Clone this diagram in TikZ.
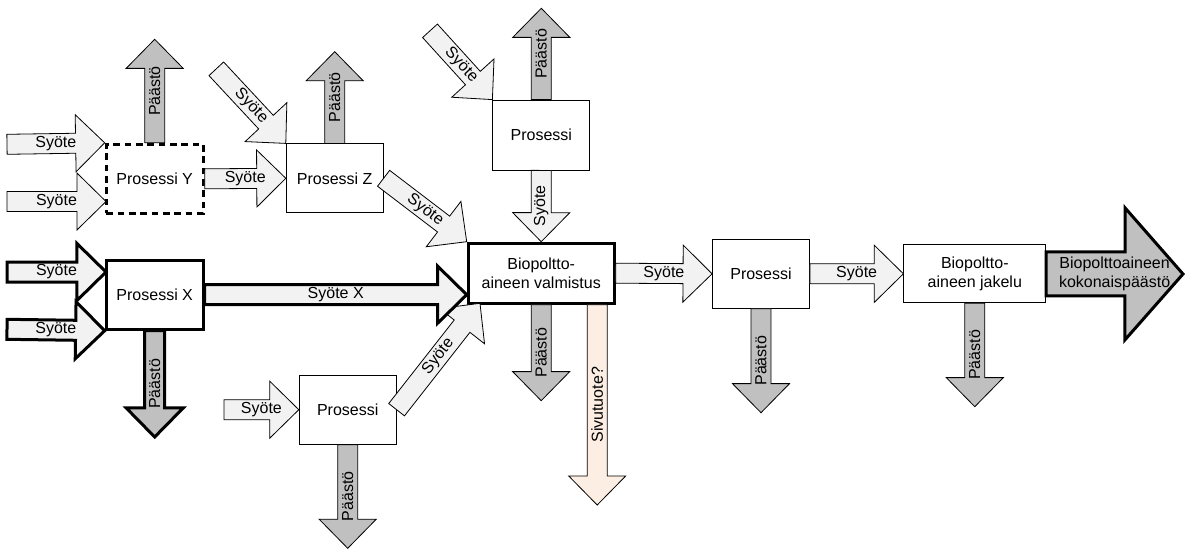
\documentclass[tikz,border=0pt]{standalone}
\usepackage{fontspec}
\setmainfont{Liberation Sans}
\usepackage{xcolor}
\usepackage{tikz}
\usetikzlibrary{calc}

\definecolor{syoteFill}{HTML}{F2F2F2}
\definecolor{paastoFill}{HTML}{C0C0C0}
\definecolor{sivuFill}{HTML}{FDEEE3}

\def\px{0.75pt}
\def\shw{7.5pt}
\def\hdw{21.4pt}
\def\hdl{21.8pt}

\newcommand{\barrow}[5][]{%
  \coordinate (bhead) at ($(#3)!\hdl!(#2)$);
  \filldraw[#1] ($(#2)!\shw!90:(#3)$) -- ($(bhead)!\shw!-90:(#2)$) -- ($(bhead)!\hdw!-90:(#2)$) -- (#3)
    -- ($(bhead)!\hdw!90:(#2)$) -- ($(bhead)!\shw!90:(#2)$) -- ($(#2)!\shw!-90:(#3)$) -- cycle;
  \path (#2) -- (#3) node[midway, rotate=#5, align=center, inner sep=0pt] {#4};
}

\tikzset{
  proc/.style={draw, fill=white, line width=0.6pt, minimum width=97*\px, minimum height=69*\px, inner sep=1pt, align=center},
  paksubox/.style={proc, line width=2.25pt},
  katkobox/.style={proc, line width=2.25pt, dash pattern=on 5pt off 3.5pt},
  syotearrow/.style={draw=black, line width=0.6pt, fill=syoteFill, line join=miter},
  paastoarrow/.style={draw=black, line width=0.6pt, fill=paastoFill, line join=miter},
  sivuarrow/.style={draw=black, line width=0.6pt, fill=sivuFill, line join=miter},
  paksusyote/.style={syotearrow, line width=2.25pt},
  paksupaasto/.style={paastoarrow, line width=2.25pt}
}

\begin{document}
\begin{tikzpicture}[x=0.75pt, y=-0.75pt, font=\fontsize{12}{14}\selectfont]
    \useasboundingbox (0,0) rectangle (1186,550);

    \node[katkobox] (procY) at (154.7,178.8) {Prosessi Y};
    \node[proc] (procZ) at (334.7,178.3) {Prosessi Z};
    \node[paksubox] (procX) at (154.7,294.7) {Prosessi X};
    \node[proc, minimum height=70*\px] (procTop) at (541.3,135) {Prosessi};
    \node[proc] (procLow) at (347.7,409.7) {Prosessi};
    \node[paksubox, minimum width=146*\px, minimum height=60*\px] (valm) at (541.2,273.2) {Biopoltto-\\aineen valmistus};
    \node[proc] (procMid) at (761,273.8) {Prosessi};
    \node[proc, minimum width=142*\px, minimum height=58*\px] (jakelu) at (974.8,273.8) {Biopoltto-\\aineen jakelu};

    \coordinate (sY1) at (7,144.3);
    \coordinate (sY2) at (7,201.5);
    \coordinate (tY2) at (106,201.5);
    \coordinate (pY) at (154.7,39.3);
    \coordinate (sZ) at (216.3,68.8);
    \coordinate (pZ) at (334.7,51.7);
    \coordinate (sTop) at (430,30.8);
    \coordinate (pTop) at (541.3,8.3);
    \coordinate (sLow) at (224,409.7);
    \coordinate (pLow) at (347.7,548.3);
    \coordinate (tLow) at (480,303.3);
    \coordinate (sX1) at (7,272);
    \coordinate (tX1) at (106,272);
    \coordinate (sX2) at (7,329.3);
    \coordinate (xEnd) at (valm.west |- procX.east);
    \coordinate (pX) at (154.7,437);
    \coordinate (pValm) at (541.2,400.7);
    \coordinate (sivu) at (597.2,505);
    \coordinate (sivuS) at (sivu |- valm.south);
    \coordinate (pMid) at (761,412.7);
    \coordinate (pJak) at (974.8,406.7);
    \coordinate (total) at (1183,274);

    \barrow[syotearrow]{sY1}{procY.north west}{Syöte}{0}
    \barrow[syotearrow]{sY2}{tY2}{Syöte}{0}
    \barrow[paastoarrow]{procY.north}{pY}{Päästö}{90}
    \barrow[syotearrow]{sZ}{procZ.north west}{Syöte}{-47}
    \barrow[syotearrow]{procY.east}{procZ.west}{Syöte}{0}
    \barrow[paastoarrow]{procZ.north}{pZ}{Päästö}{90}
    \barrow[syotearrow]{sTop}{procTop.north west}{Syöte}{-47}
    \barrow[paastoarrow]{procTop.north}{pTop}{Päästö}{90}
    \barrow[syotearrow]{procTop.south}{valm.north}{Syöte}{90}
    \barrow[syotearrow]{procZ.east}{valm.north west}{Syöte}{-37}
    \barrow[syotearrow]{sLow}{procLow.west}{Syöte}{0}
    \barrow[paastoarrow]{procLow.south}{pLow}{Päästö}{90}
    \barrow[syotearrow]{procLow.east}{tLow}{Syöte}{52}
    \barrow[paksusyote]{sX1}{tX1}{Syöte}{0}
    \barrow[paksusyote]{sX2}{procX.south west}{Syöte}{0}
    \barrow[paksusyote]{procX.east}{xEnd}{Syöte X}{0}
    \barrow[paksupaasto]{procX.south}{pX}{Päästö}{90}
    \barrow[paastoarrow]{valm.south}{pValm}{Päästö}{90}
    \barrow[sivuarrow]{sivuS}{sivu}{Sivutuote?}{90}
    \barrow[syotearrow]{valm.east}{procMid.west}{Syöte}{0}
    \barrow[paastoarrow]{procMid.south}{pMid}{Päästö}{90}
    \barrow[syotearrow]{procMid.east}{jakelu.west}{Syöte}{0}
    \barrow[paastoarrow]{jakelu.south}{pJak}{Päästö}{90}
    \begin{scope}
        \def\shw{16.5pt}
        \def\hdw{49.5pt}
        \def\hdl{43.5pt}
        \barrow[paksupaasto]{jakelu.east}{total}{Biopolttoaineen\\kokonaispäästö}{0}
    \end{scope}
\end{tikzpicture}
\end{document}
